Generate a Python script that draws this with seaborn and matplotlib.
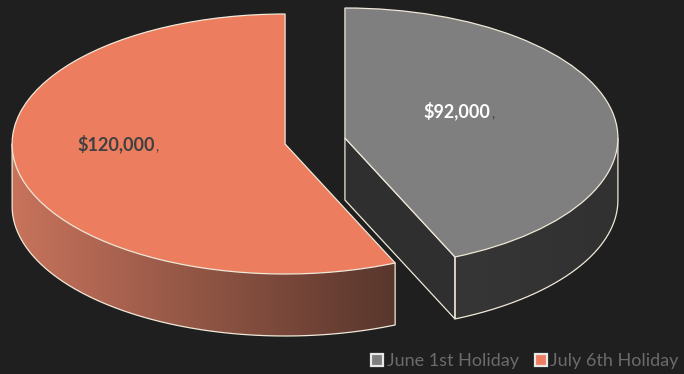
import matplotlib
matplotlib.use("Agg")
import matplotlib.pyplot as plt
import numpy as np
import seaborn as sns
from matplotlib.patches import Polygon
from matplotlib.colors import to_rgb

# Data
labels = ["June 1st Holiday", "July 6th Holiday"]
values = [92000, 120000]
colors = ["#7f7f7f", "#ec7d5e"]

sns.set_theme(style="dark")
plt.rcParams["font.family"] = ["Lato", "DejaVu Sans"]

bg = "#1f1f1f"
edge = "#f0e8d8"

# Layout of the tilted pie, in pixels
W, H = 684, 374
rx, ry = 273, 130
cx, cy = 315, 141
depth = 62 / ry

fig = plt.figure(figsize=(6.84, 3.74), dpi=100, facecolor=bg)
ax = fig.add_axes([0, 0, 1, 1])
ax.set_facecolor(bg)

wedges, _ = ax.pie(values, colors=colors, startangle=90, counterclock=False,
                   explode=[0.112, 0.112], radius=1,
                   wedgeprops=dict(edgecolor=edge, linewidth=0.9, zorder=3))
ax.set_aspect("auto")
xlim = (-cx / rx, (W - cx) / rx)
ylim = (-(H - cy) / ry, cy / ry)

# Side walls (front half only) with horizontal shading
side_cols = [("#363636", "#313131"), ("#c8735c", "#58362c")]
for i, w in enumerate(wedges):
    x0, y0 = w.center
    r = w.r
    t1, t2 = w.theta1, w.theta2
    for k in (-360, 0, 360):
        lo, hi = max(t1, -180 + k), min(t2, k)
        if hi <= lo:
            continue
        ts = np.radians(np.linspace(lo, hi, 200))
        xs = x0 + r * np.cos(ts)
        ys = y0 + r * np.sin(ts)
        pts = np.column_stack([np.concatenate([xs, xs[::-1]]),
                               np.concatenate([ys, ys[::-1] - depth])])
        wall = Polygon(pts, closed=True, fc="none", ec="none", zorder=1)
        ax.add_patch(wall)
        c0, c1 = np.array(to_rgb(side_cols[i][0])), np.array(to_rgb(side_cols[i][1]))
        f = np.linspace(0, 1, 256)[None, :, None]
        grad = c0 + (c1 - c0) * f
        im = ax.imshow(grad, extent=(xs.min(), xs.max(), (ys - depth).min(), ys.max()),
                       aspect="auto", interpolation="bilinear", zorder=1)
        im.set_clip_path(wall)
        ox = np.concatenate([[xs[0]], xs, [xs[-1]]])
        oy = np.concatenate([[ys[0]], ys - depth, [ys[-1]]])
        ax.plot(ox, oy, color=edge, lw=0.9, zorder=2)

    # cut faces facing the viewer
    for ang, sign in ((t1, 1), (t2, -1)):
        a = np.radians(ang)
        ny = -sign * np.cos(a)
        if ny < -1e-6:
            tx, ty = x0 + r * np.cos(a), y0 + r * np.sin(a)
            poly = [(x0, y0), (tx, ty), (tx, ty - depth), (x0, y0 - depth)]
            ax.add_patch(Polygon(poly, closed=True, fc="#2f2f2f", ec=edge,
                                 lw=0.9, zorder=1.5))

ax.set_xlim(xlim)
ax.set_ylim(ylim)
ax.axis("off")

# Data labels
label_pos = [(0.41, 0.21), (-0.62, 0.0)]
label_col = ["white", "#404040"]
for w, v, off, lc in zip(wedges, values, label_pos, label_col):
    x0, y0 = w.center
    t = ax.text(x0 + off[0], y0 + off[1], "\\$" + f"{v:,}", color=lc,
                fontsize=13, fontweight="bold", ha="center", va="center", zorder=6)
    ax.annotate(",", xy=(1, 0), xycoords=t, xytext=(0.5, 0), textcoords="offset points",
                color="#404040", fontsize=10, ha="left", va="bottom", zorder=6)

leg = fig.legend(wedges, labels, loc="lower right", bbox_to_anchor=(1.016, -0.03),
                 ncol=2, frameon=False, fontsize=13, handlelength=0.65,
                 handleheight=0.65, handletextpad=0.2, columnspacing=0.9,
                 labelcolor="#6b6b6b")
for h in leg.legend_handles:
    h.set_edgecolor("#e8e8e8")
    h.set_linewidth(1.6)

fig.savefig("out.png", dpi=100, facecolor=bg)
